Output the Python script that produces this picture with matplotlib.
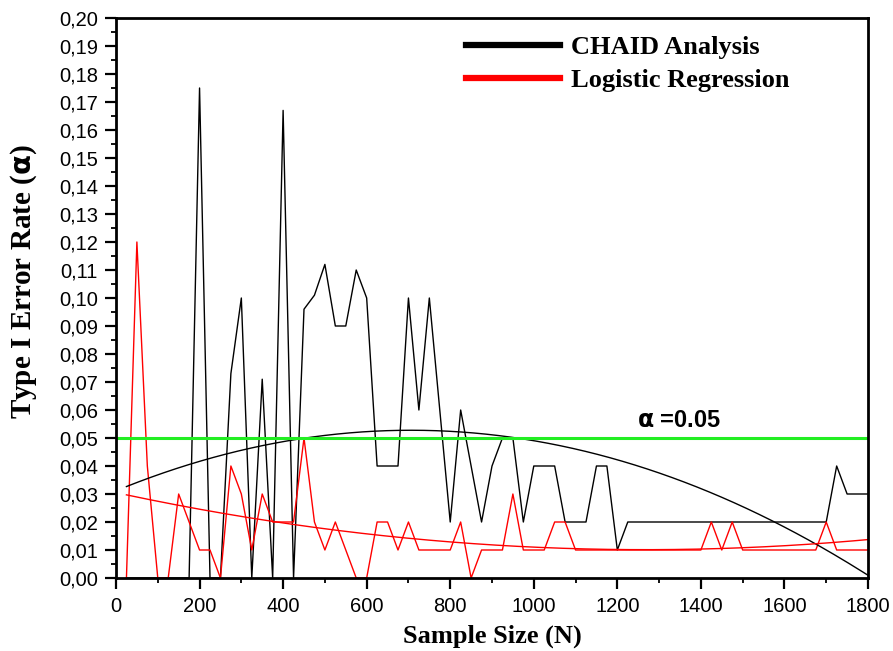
import matplotlib
matplotlib.use("Agg")
import matplotlib.pyplot as plt
from matplotlib.ticker import MultipleLocator, FuncFormatter
import numpy as np

# sample sizes, 25 .. 1800 step 25
n_size = np.arange(25, 1801, 25)

chaid = [0.00, 0.00, 0.00, 0.00, 0.00, 0.00, 0.00, 0.175, 0.00, 0.00,
         0.073, 0.10, 0.00, 0.071, 0.00, 0.167, 0.00, 0.096, 0.101, 0.112,
         0.09, 0.09, 0.11, 0.10, 0.04, 0.04, 0.04, 0.10, 0.06, 0.10,
         0.06, 0.02, 0.06, 0.04, 0.02, 0.04, 0.05, 0.05, 0.02, 0.04,
         0.04, 0.04, 0.02, 0.02, 0.02, 0.04, 0.04, 0.01, 0.02, 0.02,
         0.02, 0.02, 0.02, 0.02, 0.02, 0.02, 0.02, 0.02, 0.02, 0.02,
         0.02, 0.02, 0.02, 0.02, 0.02, 0.02, 0.02, 0.02, 0.04, 0.03,
         0.03, 0.03]

logit = [0.00, 0.12, 0.04, 0.00, 0.00, 0.03, 0.02, 0.01, 0.01, 0.00,
         0.04, 0.03, 0.01, 0.03, 0.02, 0.02, 0.02, 0.05, 0.02, 0.01,
         0.02, 0.01, 0.00, 0.00, 0.02, 0.02, 0.01, 0.02, 0.01, 0.01,
         0.01, 0.01, 0.02, 0.00, 0.01, 0.01, 0.01, 0.03, 0.01, 0.01,
         0.01, 0.02, 0.02, 0.01, 0.01, 0.01, 0.01, 0.01, 0.01, 0.01,
         0.01, 0.01, 0.01, 0.01, 0.01, 0.01, 0.02, 0.01, 0.02, 0.01,
         0.01, 0.01, 0.01, 0.01, 0.01, 0.01, 0.01, 0.02, 0.01, 0.01,
         0.01, 0.01]

alpha_level = 0.05

serif = ['Liberation Serif', 'DejaVu Serif']
sans = ['Liberation Sans', 'DejaVu Sans']

fig = plt.figure(figsize=(8.93, 6.51), dpi=100)
ax = fig.add_axes([116/893, 1-578/651, (868-116)/893, (578-18)/651])

l1, = ax.plot(n_size, chaid, color='black', lw=1)
l2, = ax.plot(n_size, logit, color='red', lw=1)

# 2nd order polynomial fits
xs = np.linspace(25, 1800, 300)
pb = np.polyfit(n_size, chaid, 2)
pr = np.polyfit(n_size, logit, 2)
ax.plot(xs, np.polyval(pb, xs), color='black', lw=1)
ax.plot(xs, np.polyval(pr, xs), color='red', lw=1)

ax.axhline(alpha_level, color='#22ee22', lw=2.2)
ax.text(1247, 0.0562, r'$\mathbf{\alpha}$ =0.05', fontsize=17, fontweight='bold',
        family=sans, va='center')

ax.set_xlim(0, 1800)
ax.set_ylim(0, 0.20)
ax.xaxis.set_major_locator(MultipleLocator(200))
ax.xaxis.set_minor_locator(MultipleLocator(100))
ax.yaxis.set_major_locator(MultipleLocator(0.01))
ax.yaxis.set_minor_locator(MultipleLocator(0.005))
ax.yaxis.set_major_formatter(FuncFormatter(lambda v, p: ('%.2f' % v).replace('.', ',')))
ax.tick_params(which='major', direction='out', length=8, width=1.6, labelsize=14.5)
ax.tick_params(which='minor', direction='out', length=3.5, width=1.3)
ax.tick_params(axis='x', which='major', pad=6)
ax.tick_params(axis='y', which='major', pad=5)
for lab in ax.get_xticklabels() + ax.get_yticklabels():
    lab.set_family(sans)
for s in ax.spines.values():
    s.set_linewidth(2)

ax.set_xlabel('Sample Size (N)', fontsize=19, fontweight='bold', family=serif, labelpad=6)
ax.set_ylabel(r'Type I Error Rate ($\mathbf{\alpha}$)', fontsize=21, fontweight='bold',
              family=serif)
ax.yaxis.set_label_coords(-0.102, 0.53)

leg = ax.legend([l1, l2], ['CHAID Analysis', 'Logistic Regression'], loc='upper left',
                bbox_to_anchor=((466-116)/752, (578-36)/560), frameon=False,
                borderpad=0, borderaxespad=0, handlelength=3.55,
                handletextpad=0.42, labelspacing=0.35,
                prop={'family': serif, 'weight': 'bold', 'size': 19})
for h in leg.legend_handles:
    h.set_linewidth(4.5)

fig.savefig('out.png', dpi=100)
